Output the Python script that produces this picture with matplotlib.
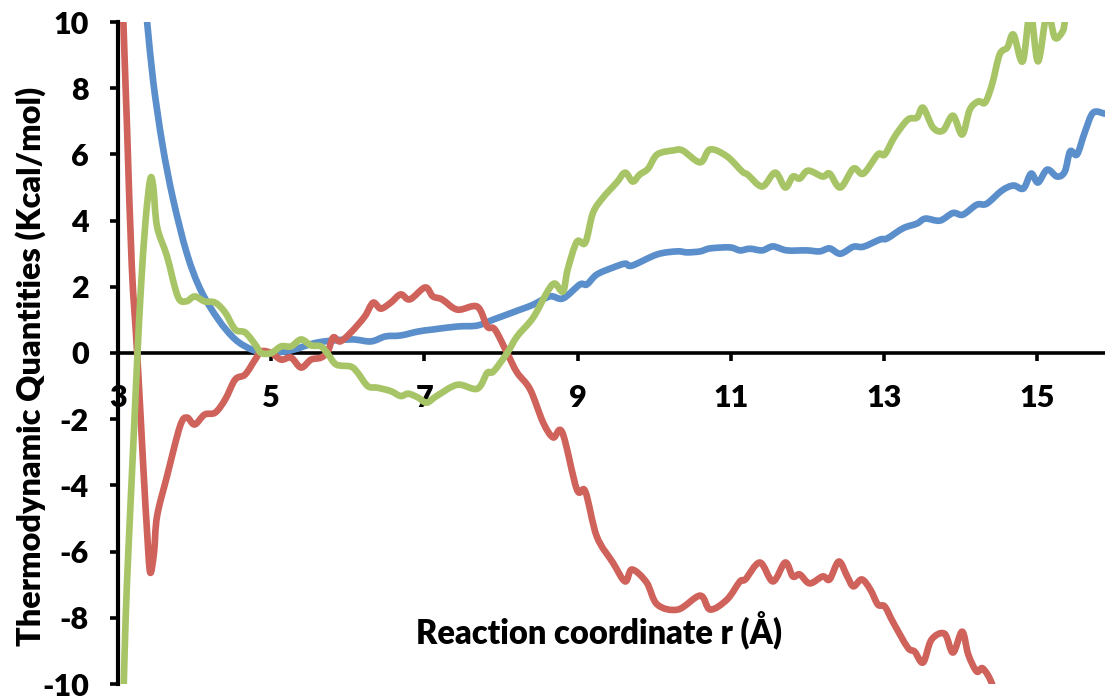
import matplotlib
matplotlib.use("Agg")
import matplotlib.pyplot as plt
import numpy as np
from matplotlib.path import Path
from matplotlib.patches import PathPatch

# reaction coordinate r (Å) and the three thermodynamic curves (kcal/mol)
dG_r = [3.31, 3.38, 3.46, 3.58, 3.72, 3.90, 4.08, 4.31, 4.53, 4.74, 4.92, 5.0,
        5.26, 5.61, 6.04, 6.30, 6.49, 6.69, 6.92, 7.11, 7.43, 7.69, 7.90, 8.25, 8.42,
        8.64, 8.81, 9.03, 9.12, 9.25, 9.46, 9.62, 9.71, 10.04, 10.30, 10.43, 10.60,
        10.73, 10.99, 11.12, 11.25, 11.41, 11.55, 11.73, 11.99, 12.16, 12.29, 12.43,
        12.60, 12.73, 12.95, 13.04, 13.25, 13.43, 13.54, 13.73, 13.90, 14.03, 14.21,
        14.34, 14.54, 14.69, 14.82, 14.92, 15.01, 15.13, 15.26, 15.36, 15.43, 15.52,
        15.62, 15.73, 15.88]
dG = [11.5, 10.0, 8.2, 6.3, 4.64, 3.0, 1.9, 1.01, 0.41, 0.11, 0.0, 0.0,
      0.08, 0.32, 0.41, 0.35, 0.5, 0.53, 0.65, 0.71, 0.80, 0.83, 1.01, 1.31, 1.46,
      1.71, 1.65, 2.07, 2.07, 2.37, 2.58, 2.7, 2.64, 2.98, 3.07, 3.04, 3.07,
      3.16, 3.19, 3.1, 3.15, 3.1, 3.22, 3.1, 3.1, 3.07, 3.16, 3.0,
      3.21, 3.21, 3.43, 3.46, 3.77, 3.91, 4.06, 4.0, 4.23, 4.18, 4.48,
      4.51, 4.91, 5.06, 4.97, 5.42, 5.15, 5.54, 5.33, 5.48, 6.09, 6.0,
      6.66, 7.26, 7.23]

dH_r = [3.05, 3.07, 3.12, 3.18, 3.25, 3.33, 3.38, 3.42, 3.47, 3.51, 3.64, 3.81, 3.90,
        4.0, 4.13, 4.27, 4.40, 4.53, 4.66, 4.79, 4.87, 5.0, 5.13, 5.26, 5.39, 5.52,
        5.65, 5.74, 5.81, 5.90, 6.04, 6.22, 6.33, 6.43, 6.56, 6.69, 6.81, 7.01, 7.11,
        7.23, 7.43, 7.69, 7.82, 7.92, 8.08, 8.21, 8.38, 8.55, 8.68, 8.80, 8.99, 9.10,
        9.25, 9.46, 9.62, 9.71, 9.90, 10.04, 10.31, 10.60, 10.73, 10.95, 11.12, 11.19,
        11.38, 11.55, 11.71, 11.81, 11.90, 12.03, 12.20, 12.29, 12.41, 12.52, 12.60,
        12.71, 12.82, 12.92, 13.01, 13.12, 13.31, 13.40, 13.51, 13.62, 13.79, 13.90,
        14.02, 14.10, 14.21, 14.29, 14.41, 14.48]
dH = [11.5, 10.0, 6.66, 2.62, 0.0, -3.43, -5.42, -6.63, -6.03, -4.93, -3.72, -2.21, -1.95,
      -2.16, -1.86, -1.8, -1.4, -0.8, -0.65, -0.2, 0.05, 0.0, -0.2, -0.14, -0.44, -0.2,
      -0.14, 0.05, 0.47, 0.35, 0.62, 1.1, 1.52, 1.34, 1.52, 1.77, 1.62, 1.98, 1.71,
      1.62, 1.31, 1.40, 0.8, 0.71, 0.0, -0.59, -1.1, -2.1, -2.55, -2.4, -4.12, -4.18,
      -5.54, -6.33, -6.9, -6.54, -6.93, -7.6, -7.75, -7.33, -7.75, -7.45, -6.9, -6.84,
      -6.33, -6.9, -6.33, -6.75, -6.69, -6.96, -6.75, -6.84, -6.3, -6.75, -7.05,
      -6.84, -7.14, -7.6, -7.66, -8.14, -8.9, -9.02, -9.35, -8.66, -8.48, -9.05,
      -8.42, -9.11, -9.62, -9.53, -10.0, -10.8]

TdS_r = [3.06, 3.075, 3.10, 3.135, 3.175, 3.215, 3.255, 3.30, 3.36, 3.42, 3.46, 3.51, 3.64,
         3.78, 3.89, 4.0, 4.13, 4.27, 4.40, 4.53, 4.66, 4.79, 4.87, 5.0, 5.13, 5.26,
         5.39, 5.52, 5.65, 5.74, 5.85, 6.04, 6.13, 6.26, 6.39, 6.56, 6.69, 6.79, 6.92,
         7.03, 7.16, 7.43, 7.69, 7.82, 7.90, 8.08, 8.21, 8.42, 8.60, 8.70, 8.81, 8.87,
         8.99, 9.10, 9.20, 9.33, 9.51, 9.62, 9.72, 9.81, 9.92, 10.04, 10.25, 10.37,
         10.60, 10.73, 10.95, 11.15, 11.22, 11.41, 11.58, 11.71, 11.81, 11.90, 12.01,
         12.20, 12.29, 12.43, 12.60, 12.73, 12.92, 13.01, 13.14, 13.31, 13.43, 13.51,
         13.64, 13.77, 13.90, 14.02, 14.12, 14.23, 14.32, 14.41, 14.51, 14.61, 14.69,
         14.81, 14.91, 15.01, 15.13, 15.23, 15.33, 15.36, 15.42]
TdS = [-10.8, -10.0, -8.0, -6.0, -4.0, -2.0, 0.0, 2.0, 4.0, 5.24, 5.03, 3.82, 2.92,
       1.71, 1.56, 1.71, 1.56, 1.52, 1.22, 0.71, 0.62, 0.26, 0.0, 0.0, 0.2, 0.2,
       0.41, 0.23, 0.2, -0.03, -0.35, -0.41, -0.6, -1.0, -1.05, -1.15, -1.3, -1.23, -1.35,
       -1.5, -1.3, -0.96, -1.08, -0.6, -0.56, 0.0, 0.5, 1.07, 1.83, 2.1, 1.86, 2.52,
       3.36, 3.33, 4.23, 4.69, 5.15, 5.45, 5.18, 5.39, 5.57, 6.0, 6.12, 6.12,
       5.76, 6.15, 5.94, 5.48, 5.39, 5.03, 5.45, 5.0, 5.33, 5.27, 5.51,
       5.33, 5.42, 5.0, 5.57, 5.42, 6.0, 6.0, 6.54, 7.05, 7.11, 7.41,
       6.81, 6.72, 7.17, 6.6, 7.35, 7.6, 7.57, 8.11, 9.02, 9.23, 9.62,
       8.81, 10.3, 8.81, 10.3, 9.53, 9.71, 10.0, 10.8]

x_ticks = [3, 5, 7, 9, 11, 13, 15]
y_ticks = [-10, -8, -6, -4, -2, 0, 2, 4, 6, 8, 10]

plt.rcParams['font.family'] = ['Lato', 'DejaVu Sans']
plt.rcParams['font.weight'] = 'heavy'
plt.rcParams['axes.unicode_minus'] = False


def smooth_line(ax, xs, ys, **kw):
    # Catmull-Rom style bezier through the points, like a "smoothed line" chart
    p = np.column_stack([xs, ys]).astype(float)
    ext = np.vstack([p[0], p, p[-1]])
    verts = [p[0]]
    codes = [Path.MOVETO]
    for i in range(len(p) - 1):
        p0, p1, p2, p3 = ext[i], ext[i + 1], ext[i + 2], ext[i + 3]
        verts += [p1 + (p2 - p0) / 6.0, p2 - (p3 - p1) / 6.0, p2]
        codes += [Path.CURVE4] * 3
    patch = PathPatch(Path(verts, codes), fill=False, capstyle='round',
                      joinstyle='round', **kw)
    ax.add_patch(patch)
    return patch


fig = plt.figure(figsize=(11.05, 7.0), dpi=100)
ax = fig.add_axes([118 / 1105, 16 / 700, 987 / 1105, 662 / 700])

lw = 4.8
smooth_line(ax, dG_r, dG, edgecolor='#5B8FCB', lw=lw, zorder=3)
smooth_line(ax, dH_r, dH, edgecolor='#CF625A', lw=lw, zorder=3)
smooth_line(ax, TdS_r, TdS, edgecolor='#A7C566', lw=lw, zorder=3)

ax.set_xlim(3, 15.885)
ax.set_ylim(-10, 10)

for side in ('top', 'right'):
    ax.spines[side].set_visible(False)
ax.spines['bottom'].set_position(('data', 0))
ax.spines['left'].set_linewidth(3.0)
ax.spines['bottom'].set_linewidth(2.6)

ax.set_xticks(x_ticks)
ax.set_yticks(y_ticks)
ax.tick_params(axis='both', direction='out', length=6, width=2.6, labelsize=22)
ax.tick_params(axis='x', pad=16)
ax.tick_params(axis='y', pad=15)
for lab in ax.get_xticklabels() + ax.get_yticklabels():
    lab.set_fontweight('heavy')

fig.text(31 / 1105, 1 - 366 / 700, 'Thermodynamic Quantities (Kcal/mol)',
         rotation=90, ha='center', va='center', fontsize=23.3, fontweight='heavy')
fig.text(599 / 1105, 1 - 630 / 700, 'Reaction coordinate r (Å)',
         ha='center', va='center', fontsize=23.5, fontweight='heavy')

fig.savefig('out.png', dpi=100)
